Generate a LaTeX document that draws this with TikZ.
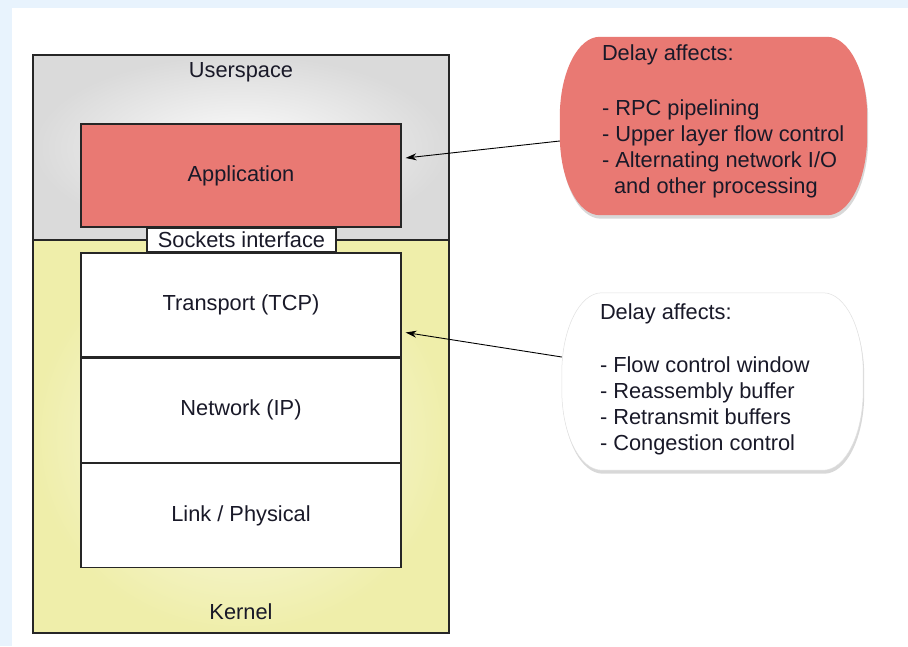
\documentclass[tikz,border=0pt]{standalone}
\usepackage{fontspec}
\setmainfont{Liberation Sans}
\usetikzlibrary{arrows.meta,positioning,shadows}
\definecolor{bgblue}{RGB}{232,243,253}
\definecolor{appred}{RGB}{233,121,115}
\definecolor{usergray}{RGB}{218,218,218}
\definecolor{kernyellow}{RGB}{239,238,170}
\definecolor{txtdark}{RGB}{25,25,40}
% outline of a note bubble round node #1, corners are quarter ellipses
\newcommand{\bubblepath}[1]{([xshift=40pt]#1.north west) -- ([xshift=-40pt]#1.north east)
    arc[start angle=90, end angle=0, x radius=40pt, y radius=80pt]
    -- ([yshift=80pt]#1.south east)
    arc[start angle=0, end angle=-90, x radius=40pt, y radius=80pt]
    -- ([xshift=40pt]#1.south west)
    arc[start angle=270, end angle=180, x radius=40pt, y radius=80pt]
    -- ([yshift=-80pt]#1.north west)
    arc[start angle=180, end angle=90, x radius=40pt, y radius=80pt] -- cycle}

\begin{document}
\begin{tikzpicture}[x=1pt, y=-1pt, every node/.style={font=\fontsize{21.8}{26}\selectfont, text=txtdark}]
\tikzset{
    region/.style={draw=black!85, line width=1.2pt, rectangle, minimum width=416pt, inner sep=0pt},
    layer/.style={draw=black!85, line width=1.2pt, rectangle, fill=white, minimum width=320pt, minimum height=104pt, inner sep=0pt},
    notebox/.style={inner sep=0pt},
    notefill/.style={line width=0.5pt, drop shadow={shadow xshift=1pt, shadow yshift=-3.5pt, opacity=0.3}},
    notetext/.style={align=left, inner sep=0pt, anchor=west},
    pointer/.style={-{Stealth[length=11pt, width=7pt]}, line width=0.9pt, black}
}

% page background
\fill[bgblue] (0,0) rectangle (908,646);
\fill[white] (12,8) rectangle (908,646);
\useasboundingbox (0,0) rectangle (908,646);

% userspace and kernel regions
\node[region, minimum height=185pt, inner color=white!92!usergray, outer color=usergray] (user) at (241,147.5) {};
\node[region, minimum height=393pt, inner color=white!80!kernyellow, outer color=kernyellow] (kern) at (241,436.5) {};
\node (userlbl) at (241,72) {Userspace};
\node (kernlbl) at (241,612) {Kernel};

% application and protocol stack
\node[layer, fill=appred, minimum height=103pt] (app) at (241,175.5) {Application};
\node[layer] (tcp) at (241,305) {Transport (TCP)};
\node[layer, below=0pt of tcp] (ip) {Network (IP)};
\node[layer, below=0pt of ip] (link) {Link / Physical};
\node[draw=black!85, line width=1.2pt, fill=white, minimum width=189pt, minimum height=24pt, inner sep=0pt] (sock) at (241.5,240) {Sockets interface};

% delay notes
\node[notebox, minimum width=307pt, minimum height=178pt] (rednote) at (713.5,126) {};
\path[notefill, fill=appred] \bubblepath{rednote};
\node[notetext] (redtxt) at ([xshift=42pt, yshift=4.5pt]rednote.west)
    {Delay affects:\\[29pt]- RPC pipelining\\- Upper layer flow control\\- Alternating network I/O\\\ \ and other processing};

\node[notebox, minimum width=301pt, minimum height=177pt] (whitenote) at (712.5,381.5) {};
\path[notefill, fill=white, draw=black!12] \bubblepath{whitenote};
\node[notetext] (whitetxt) at ([xshift=38pt, yshift=2pt]whitenote.west)
    {Delay affects:\\[27pt]- Flow control window\\- Reassembly buffer\\- Retransmit buffers\\- Congestion control};

\draw[pointer] ([yshift=-15pt]rednote.west) -- ([xshift=4pt, yshift=17.5pt]app.east);
\draw[pointer] ([yshift=24.5pt]whitenote.west) -- ([xshift=4pt, yshift=-27.5pt]tcp.east);

\end{tikzpicture}
\end{document}
